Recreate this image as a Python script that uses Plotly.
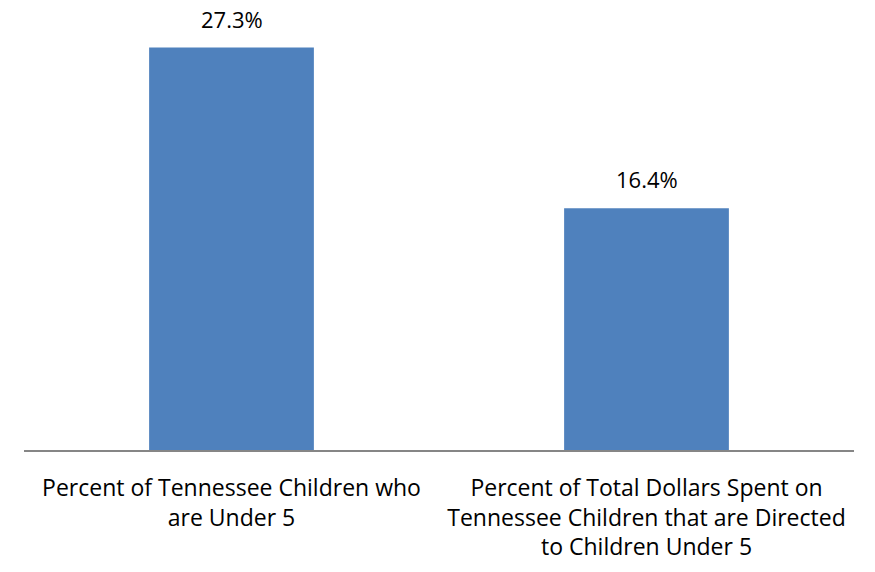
import plotly.graph_objects as go

categories = [
    "Percent of Tennessee Children who<br>are Under 5",
    "Percent of Total Dollars Spent on<br>Tennessee Children that are Directed<br>to Children Under 5",
]
values = [27.3, 16.4]
value_labels = ["27.3%", "16.4%"]

FONT = "Open Sans, sans-serif"

fig = go.Figure(
    go.Bar(
        x=[0, 1],
        y=values,
        marker=dict(color="#4F81BD", line=dict(width=0)),
        width=0.397,
        hoverinfo="skip",
    )
)

for i, (v, t) in enumerate(zip(values, value_labels)):
    fig.add_annotation(
        x=i, y=v, text=t, showarrow=False,
        xanchor="center", yanchor="bottom", yshift=12,
        font=dict(size=22, color="#000000", family=FONT),
    )

fig.update_layout(
    width=875,
    height=572,
    margin=dict(l=24, r=21, t=10, b=115),
    paper_bgcolor="white",
    plot_bgcolor="white",
    showlegend=False,
    font=dict(family=FONT, size=23, color="#000000"),
    xaxis=dict(
        range=[-0.5, 1.5],
        tickmode="array",
        tickvals=[0, 1],
        ticktext=categories,
        showline=True,
        linecolor="#868686",
        linewidth=2,
        ticks="",
        showgrid=False,
        zeroline=False,
        ticklabelstandoff=16,
        tickfont=dict(size=23, family=FONT, color="#000000"),
    ),
    yaxis=dict(
        range=[0, 29.85],
        visible=False,
        showgrid=False,
        zeroline=False,
    ),
)

fig.write_html(
    "out.html",
    config={"displayModeBar": False},
    post_script="document.body.style.margin='0px';",
)
